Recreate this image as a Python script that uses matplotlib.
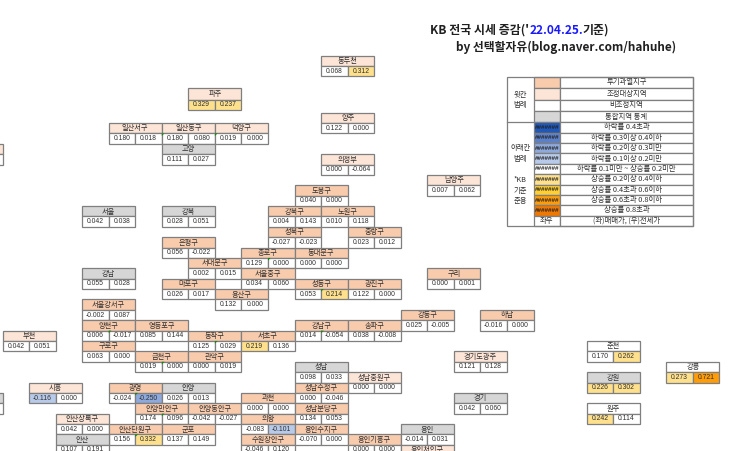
# KB weekly price change, tile map in excel layout
import matplotlib
matplotlib.use("Agg")
import matplotlib.pyplot as plt
from matplotlib.patches import Rectangle, Polygon

plt.rcParams['font.family'] = ['Noto Sans CJK KR', 'DejaVu Sans']

# region tiles
tile_names = ['동두천', '파주', '양주', '일산서구', '일산동구', '덕양구', '고양', '의정부',
              '서울', '강북', '은평구', '서대문구', '마포구', '용산구', '강남',
              '종로구', '동대문구', '서울중구', '성북구', '강북구', '노원구', '도봉구', '중랑구',
              '성동구', '광진구', '강동구', '하남', '남양주', '구리',
              '서울강서구', '양천구', '영등포구', '구로구', '금천구', '관악구', '동작구', '서초구',
              '강남구', '송파구', '부천', '시흥', '광명', '안양', '안양만안구', '안양동안구',
              '안산상록구', '안산단원구', '군포', '안산', '과천', '의왕', '수원장안구',
              '성남', '성남중원구', '성남수정구', '성남분당구', '용인수지구', '용인기흥구', '용인',
              '용인처인구', '경기도광주', '경기', '춘천', '강원', '원주', '강릉', '', '']
sale_change = [0.068, 0.329, 0.122, 0.180, 0.180, 0.019, 0.111, 0.000,
               0.042, 0.028, 0.056, 0.002, 0.026, 0.132, 0.055,
               0.129, 0.000, 0.034, -0.027, 0.004, 0.010, 0.040, 0.023,
               0.053, 0.122, 0.025, -0.016, 0.007, 0.000,
               -0.002, 0.006, 0.085, 0.063, 0.019, 0.000, 0.125, 0.219,
               0.014, 0.038, 0.042, -0.116, -0.024, 0.026, 0.174, -0.042,
               0.042, 0.156, 0.137, 0.107, 0.000, -0.083, -0.046,
               0.098, 0.000, 0.000, 0.134, -0.070, 0.000, -0.014,
               None, 0.121, 0.042, 0.170, 0.226, 0.242, 0.273, None, None]
jeonse_change = [0.312, 0.237, 0.000, 0.018, 0.080, 0.000, 0.027, -0.064,
                 0.038, 0.051, -0.022, 0.015, 0.017, 0.000, 0.028,
                 0.000, 0.000, 0.060, -0.023, 0.143, 0.118, 0.000, 0.012,
                 0.214, 0.000, -0.005, 0.000, 0.062, 0.001,
                 0.087, -0.017, 0.144, 0.000, 0.000, 0.019, 0.029, 0.136,
                 -0.054, -0.008, 0.051, 0.000, -0.250, 0.013, 0.096, -0.027,
                 0.000, 0.332, 0.149, 0.191, 0.000, -0.101, 0.120,
                 0.033, 0.000, -0.046, 0.053, 0.000, 0.000, 0.031,
                 None, 0.128, 0.060, 0.262, 0.302, 0.114, 0.721, None, None]
tile_kind = ['adj', 'adj', 'adj', 'adj', 'adj', 'adj', 'total', 'adj',
             'total', 'total', 'over', 'over', 'over', 'over', 'total',
             'over', 'over', 'over', 'over', 'over', 'over', 'over', 'over',
             'over', 'over', 'over', 'over', 'adj', 'over',
             'over', 'over', 'over', 'over', 'over', 'over', 'over', 'over',
             'over', 'over', 'adj', 'adj', 'over', 'total', 'over', 'over',
             'adj', 'over', 'over', 'total', 'over', 'over', 'over',
             'total', 'adj', 'over', 'over', 'over', 'over', 'total',
             'adj', 'adj', 'total', 'none', 'total', 'none', 'none', 'adj', 'total']
tile_col = [12, 7, 12, 4, 6, 8, 6, 12,
            3, 6, 6, 7, 6, 8, 3,
            9, 11, 9, 10, 10, 12, 11, 13,
            11, 13, 15, 18, 16, 16,
            3, 3, 5, 3, 5, 7, 7, 9,
            11, 13, 0, 1, 4, 6, 5, 7,
            2, 4, 6, 2, 9, 9, 9,
            11, 13, 11, 11, 11, 13, 15,
            15, 17, 17, 22, 22, 22, 25, -2, -2]
tile_row = [-6.5, -3.4, -1, 0, 0, 0, 2, 3,
            8, 8, 11, 13, 15, 16, 14,
            12, 12, 14, 10, 8, 8, 6, 10,
            15, 15, 18, 18, 5, 14,
            17, 19, 19, 21, 22, 22, 20, 20,
            19, 19, 20, 25, 25, 25, 27, 27,
            28, 29, 29, 30, 26, 28, 30,
            23, 24, 25, 27, 29, 30, 29,
            31, 22, 26, 21, 24, 27, 23, 2, 26]
tall_tiles = ['파주']
# excel error flags on the value cells: right cell unless listed as left
flag_right = ['종로구', '성동구', '양천구', '금천구', '동작구', '강남구', '광명', '안양만안구', '안산단원구']
flag_left = ['일산동구', '덕양구']

# legend
legend_labels = ['투기과열지구', '조정대상지역', '비조정지역', '통합지역 통계',
                 '하락률 0.4초과', '하락률 0.3이상 0.4이하', '하락률 0.2이상 0.3미만',
                 '하락률 0.1이상 0.2미만', '하락률 0.1미만 ~ 상승률 0.2미만',
                 '상승률 0.2이상 0.4이하', '상승률 0.4초과 0.6이하', '상승률 0.6초과 0.8이하',
                 '상승률 0.8초과', '(좌)매매가, (우)전세가']
legend_side = [('윗칸', 94.5), ('범례', 105.5), ('아래칸', 148), ('범례', 159),
               ('*KB', 180), ('기준', 190.5), ('준용', 200.8)]

header_colors = {'over': '#f8cbad', 'adj': '#fce4d6', 'none': '#ffffff', 'total': '#d6d6d6'}
# value bins from the legend: (lower bound, colour)
value_bins = [(-9, '#2158b8'), (-0.4, '#5b80c8'), (-0.3, '#8ea9db'), (-0.2, '#b8cae9'),
              (-0.1, '#ffffff'), (0.2, '#ffe08c'), (0.4, '#ffcf33'), (0.6, '#ff9c0a'),
              (0.8, '#f07800')]
line_color = '#7f7f7f'
text_color = '#303030'
num_font = ['Liberation Sans', 'DejaVu Sans']
cell_w = 26.55
row_h = 10.38


def value_color(v):
    color = '#ffffff'
    for low, c in value_bins:
        if v >= low:
            color = c
    return color


def box(ax, x, y, w, h, face, lw=0.9):
    ax.add_patch(Rectangle((x, y), w, h, facecolor=face, edgecolor=line_color, linewidth=lw))


fig = plt.figure(figsize=(7.43, 4.51), dpi=100)
ax = fig.add_axes([0, 0, 1, 1])
ax.set_xlim(0, 743)
ax.set_ylim(451, 0)
ax.axis('off')

# tiles
for i, name in enumerate(tile_names):
    x = 2.5 + tile_col[i] * cell_w
    y = 123 + tile_row[i] * row_h
    h = row_h * 1.14 if name in tall_tiles else row_h
    box(ax, x, y, cell_w * 2, h, header_colors[tile_kind[i]])
    ax.text(x + cell_w, y + h / 2 + 0.3, name, ha='center', va='center', fontsize=5.2, color=text_color)
    for j, v in enumerate([sale_change[i], jeonse_change[i]]):
        cx = x + j * cell_w
        box(ax, cx, y + h, cell_w, row_h, value_color(v) if v is not None else '#ffffff')
        if v is not None:
            ax.text(cx + cell_w / 2, y + h + row_h / 2, f"{v:.3f}", ha='center', va='center',
                    fontsize=4.9, color=text_color, family=num_font)
    if name in flag_right or name in flag_left:
        fx = x + cell_w if name in flag_right else x
        fy = y + h
        ax.add_patch(Polygon([(fx, fy), (fx + 2.6, fy), (fx, fy + 2.6)], facecolor='#0b8a0b',
                             edgecolor='none', zorder=5))

# legend table
lx = [507, 533.5, 560, 693]
ly = [76.7, 88.1, 99.5, 110.9, 122.3]
for i in range(10):
    ly.append(ly[-1] + 10.37)
ax.add_patch(Rectangle((lx[0], ly[0]), lx[3] - lx[0], ly[-1] - ly[0], facecolor='none',
                       edgecolor=line_color, linewidth=0.9, zorder=4))
ax.plot([lx[0], lx[1]], [ly[4], ly[4]], color=line_color, lw=0.9)
swatches = [header_colors[k] for k in ['over', 'adj', 'none', 'total']] + [c for _, c in value_bins] + ['#ffffff']
for i, label in enumerate(legend_labels):
    box(ax, lx[1], ly[i], lx[2] - lx[1], ly[i + 1] - ly[i], swatches[i])
    box(ax, lx[2], ly[i], lx[3] - lx[2], ly[i + 1] - ly[i], '#ffffff')
    ym = (ly[i] + ly[i + 1]) / 2
    ax.text((lx[2] + lx[3]) / 2, ym, label, ha='center', va='center', fontsize=5.3, color=text_color)
    if 4 <= i < 13:
        ax.text((lx[1] + lx[2]) / 2, ym, '#######', ha='center', va='center', fontsize=4.6,
                fontweight='bold', color='#222222', family=num_font)
ax.text((lx[1] + lx[2]) / 2, (ly[13] + ly[14]) / 2, '좌우', ha='center', va='center', fontsize=5.3,
        color=text_color)
for label, ym in legend_side:
    ax.text((lx[0] + lx[1]) / 2, ym, label, ha='center', va='center', fontsize=5.3, color=text_color)

# title, three colours on one line
t1 = ax.text(430, 33.5, "KB 전국 시세 증감('", fontsize=8.6, fontweight='bold', color='#202020', va='baseline')
t2 = ax.annotate("22.04.25.", xy=(1, 0), xycoords=t1, va='bottom', fontsize=8.6, fontweight='bold',
                 color='#1a1aff', annotation_clip=False)
ax.annotate("기준)", xy=(1, 0), xycoords=t2, va='bottom', fontsize=8.6, fontweight='bold',
            color='#202020', annotation_clip=False)
ax.text(456, 51.5, "by 선택할자유(blog.naver.com/hahuhe)", fontsize=8.5, fontweight='bold',
        color='#202020', va='baseline')

plt.savefig("out.png", dpi=100)
